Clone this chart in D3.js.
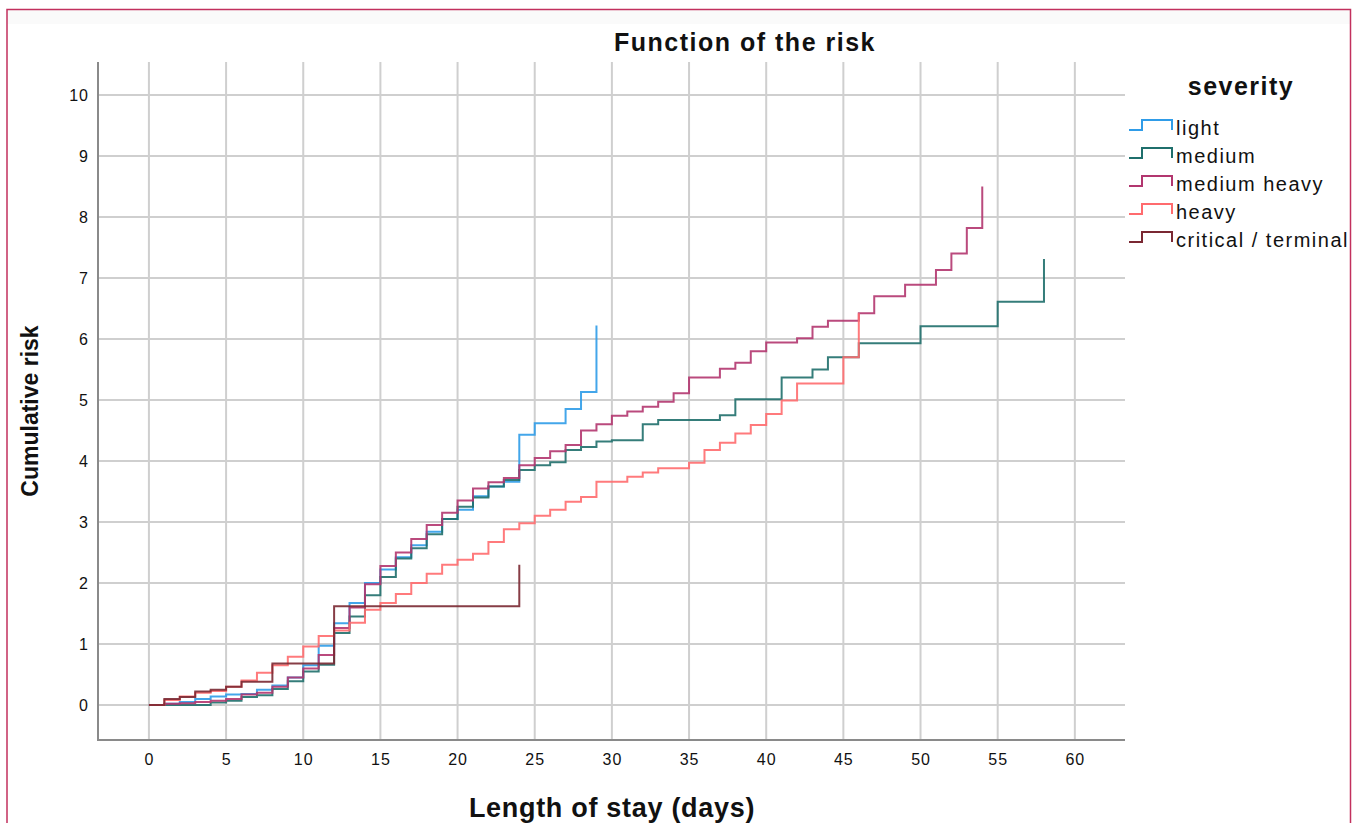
<!DOCTYPE html>
<html>
<head>
<meta charset="utf-8">
<script src="https://cdn.jsdelivr.net/npm/d3@7"></script>
<style>
  body { margin: 0; background: #fff; }
  text { font-family: "Liberation Sans", Arial, sans-serif; fill: #111; }
</style>
</head>
<body>
<svg id="chart" width="1355" height="823"></svg>
<script>
// step data: day where the cumulative risk changes, and the new value
var lightDays = [0,1,2,3,4,5,6,7,8,9,10,11,12,13,14,15,16,17,18,19,20,21,22,23,24,25,27,28,29];
var lightVals = [0,0.02,0.05,0.1,0.14,0.17,0.18,0.25,0.32,0.45,0.65,0.97,1.34,1.67,2.0,2.22,2.42,2.62,2.84,3.05,3.2,3.42,3.58,3.66,4.43,4.62,4.85,5.13,6.22];

var mediumDays = [0,4,5,6,7,8,9,10,11,12,13,14,15,16,17,18,19,20,21,22,23,24,25,26,27,28,29,30,32,33,37,38,41,43,44,46,50,55,58];
var mediumVals = [0,0.04,0.07,0.13,0.16,0.26,0.39,0.55,0.66,1.18,1.45,1.8,2.1,2.4,2.57,2.8,3.05,3.25,3.4,3.58,3.69,3.85,3.93,3.98,4.18,4.23,4.32,4.34,4.6,4.67,4.75,5.01,5.37,5.5,5.7,5.93,6.21,6.61,7.31];

var medHeavyDays = [0,1,2,3,4,5,6,7,8,9,10,11,12,13,14,15,16,17,18,19,20,21,22,23,24,25,26,27,28,29,30,31,32,33,34,35,37,38,39,40,42,43,44,46,47,49,51,52,53,54];
var medHeavyVals = [0,0.02,0.03,0.05,0.07,0.1,0.17,0.2,0.3,0.45,0.6,0.82,1.26,1.6,1.98,2.28,2.5,2.72,2.95,3.15,3.35,3.55,3.65,3.72,3.93,4.05,4.16,4.26,4.5,4.6,4.74,4.81,4.89,4.97,5.11,5.37,5.51,5.61,5.8,5.94,6.01,6.2,6.3,6.42,6.7,6.89,7.13,7.4,7.82,8.5];

var heavyDays = [0,1,2,3,4,5,6,7,8,9,10,11,12,13,14,15,16,17,18,19,20,21,22,23,24,25,26,27,28,29,31,32,33,35,36,37,38,39,40,41,42,45,46];
var heavyVals = [0,0.08,0.14,0.2,0.23,0.3,0.4,0.53,0.65,0.79,0.96,1.13,1.22,1.35,1.56,1.67,1.82,2.0,2.15,2.3,2.38,2.48,2.67,2.88,2.98,3.1,3.2,3.33,3.41,3.66,3.74,3.81,3.88,3.97,4.18,4.3,4.45,4.59,4.77,4.99,5.27,5.7,6.42];

var criticalDays = [0,1,2,3,4,5,6,8,12,24];
var criticalVals = [0,0.1,0.13,0.22,0.25,0.3,0.38,0.68,1.62,2.3];

var seriesNames = ["light","medium","medium heavy","heavy","critical / terminal"];
var seriesColors = ["#2f9ce8","#1f6f6c","#b2366f","#ff6b6e","#7a2832"];

var xTicks = [0,5,10,15,20,25,30,35,40,45,50,55,60];
var yTicks = [0,1,2,3,4,5,6,7,8,9,10];

var svg = d3.select("#chart");

// outer frame like the output viewer
svg.append("rect").attr("x", 7).attr("y", 10).attr("width", 1343).attr("height", 14).attr("fill", "#fafafa");
svg.append("path").attr("d", "M7,823 V9.5 H1350.5 V823")
  .attr("fill", "none").attr("stroke", "#c2305e").attr("stroke-width", 1.5);

var plotLeft = 98, plotRight = 1125, plotTop = 62, plotBottom = 740;

var x = d3.scaleLinear().domain([-3.3, 63.25]).range([plotLeft, plotRight]);
var y = d3.scaleLinear().domain([-0.574, 10.54]).range([plotBottom, plotTop]);

// grid
svg.append("g").selectAll("line").data(xTicks).enter().append("line")
  .attr("x1", function(d){ return x(d); }).attr("x2", function(d){ return x(d); })
  .attr("y1", plotTop).attr("y2", plotBottom)
  .attr("stroke", "#cfcfcf").attr("stroke-width", 2);
svg.append("g").selectAll("line").data(yTicks).enter().append("line")
  .attr("x1", plotLeft).attr("x2", plotRight)
  .attr("y1", function(d){ return y(d); }).attr("y2", function(d){ return y(d); })
  .attr("stroke", "#cfcfcf").attr("stroke-width", 2);

// axes
var yAxis = svg.append("g").attr("transform", "translate(" + plotLeft + ",0)")
  .call(d3.axisLeft(y).tickValues(yTicks).tickSize(0).tickPadding(9));
var xAxis = svg.append("g").attr("transform", "translate(0," + plotBottom + ")")
  .call(d3.axisBottom(x).tickValues(xTicks).tickSize(0).tickPadding(14));
[yAxis, xAxis].forEach(function(a){
  a.select(".domain").remove();
  a.selectAll("text").attr("font-size", 16).attr("fill", "#222")
    .attr("letter-spacing", 1)
    .attr("font-family", "'Liberation Sans', Arial, sans-serif");
});
svg.append("line").attr("x1", plotLeft).attr("x2", plotLeft).attr("y1", plotTop).attr("y2", plotBottom + 1)
  .attr("stroke", "#8a8a8a").attr("stroke-width", 2);
svg.append("line").attr("x1", plotLeft).attr("x2", plotRight).attr("y1", plotBottom).attr("y2", plotBottom)
  .attr("stroke", "#8a8a8a").attr("stroke-width", 2);

// step lines
var series = [
  {days: lightDays, vals: lightVals},
  {days: mediumDays, vals: mediumVals},
  {days: medHeavyDays, vals: medHeavyVals},
  {days: heavyDays, vals: heavyVals},
  {days: criticalDays, vals: criticalVals}
];
var line = d3.line()
  .x(function(d){ return x(d[0]); })
  .y(function(d){ return y(d[1]); })
  .curve(d3.curveStepAfter);

series.forEach(function(s, i){
  var pts = s.days.map(function(d, j){ return [d, s.vals[j]]; });
  svg.append("path").datum(pts)
    .attr("d", line)
    .attr("fill", "none")
    .attr("stroke", seriesColors[i])
    .attr("stroke-width", 2)
    .attr("stroke-opacity", 0.9);
});

// titles
svg.append("text").attr("x", 745).attr("y", 51).attr("text-anchor", "middle")
  .attr("font-size", 25).attr("font-weight", "bold").attr("letter-spacing", 1.5)
  .text("Function of the risk");
svg.append("text").attr("x", 612).attr("y", 817).attr("text-anchor", "middle")
  .attr("font-size", 27).attr("font-weight", "bold").attr("letter-spacing", 0.7)
  .text("Length of stay (days)");
svg.append("text").attr("transform", "translate(38,411) rotate(-90)").attr("text-anchor", "middle")
  .attr("font-size", 23).attr("font-weight", "bold").text("Cumulative risk");

// legend
svg.append("text").attr("x", 1241).attr("y", 95).attr("text-anchor", "middle")
  .attr("font-size", 25).attr("font-weight", "bold").attr("letter-spacing", 1.5)
  .text("severity");
var leg = svg.append("g").selectAll("g").data(seriesNames).enter().append("g")
  .attr("transform", function(d, i){ return "translate(1129," + (130 + i * 28) + ")"; });
leg.append("path")
  .attr("d", "M0,0 H13 V-10 H43 V0")
  .attr("fill", "none")
  .attr("stroke", function(d, i){ return seriesColors[i]; })
  .attr("stroke-width", 2);
leg.append("text").attr("x", 47).attr("y", 5).attr("font-size", 20).attr("fill", "#222")
  .attr("letter-spacing", 1.5)
  .text(function(d){ return d; });
</script>
</body>
</html>
